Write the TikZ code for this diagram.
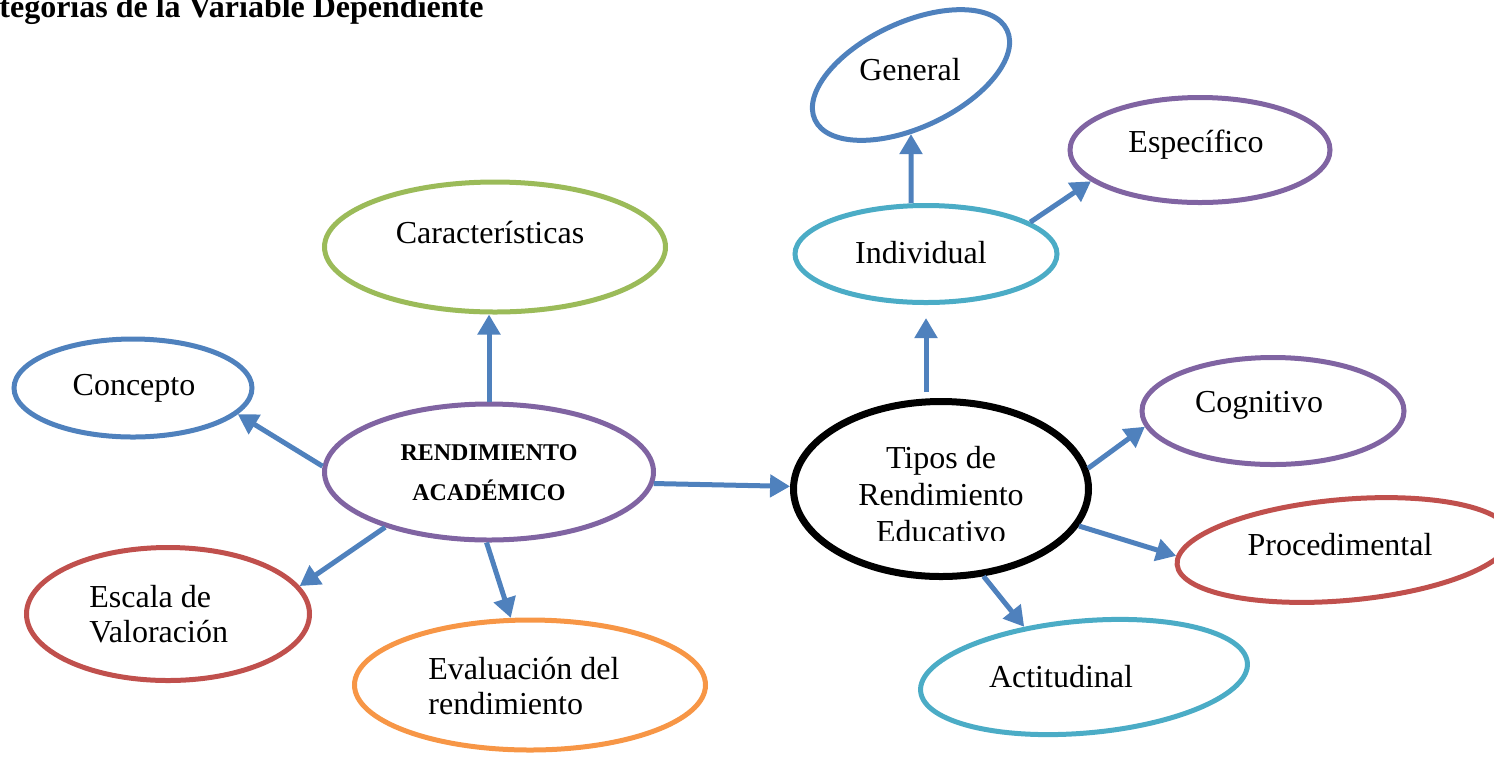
\documentclass[tikz,border=0pt]{standalone}
\usepackage{fontspec}
\setmainfont{Liberation Serif}
\usetikzlibrary{shapes.geometric,arrows.meta}

\definecolor{azul}{HTML}{4F81BD}
\definecolor{morado}{HTML}{8064A2}
\definecolor{verde}{HTML}{9BBB59}
\definecolor{turquesa}{HTML}{4BACC6}
\definecolor{rojo}{HTML}{C0504D}
\definecolor{naranja}{HTML}{F79646}

\begin{document}
\begin{tikzpicture}[x=0.5pt, y=-0.5pt,
    ovalo/.style={ellipse, draw=#1, line width=2.5pt, inner sep=0pt},
    texto/.style={font=\fontsize{16}{17.5}\selectfont, inner sep=0pt},
    flecha/.style={color=azul, line width=2.5pt, -{Triangle[length=10pt,width=11pt]}}]

\useasboundingbox (0,0) rectangle (1494,757);
\clip (0,0) rectangle (1494,757);

\node [texto, font=\fontsize{16}{18}\selectfont\bfseries, anchor=base west] (titulo) at (-1,17) {tegorias de la Variable Dependiente};

% centro
\node [ovalo=morado, minimum width=164.5pt, minimum height=68pt] (ra) at (489,472) {};
\node [texto, font=\fontsize{12}{20}\selectfont\bfseries, align=center] (raT) at (489,473) {RENDIMIENTO\\ACADÉMICO};

\node [ovalo=black, line width=3.5pt, minimum width=147.5pt, minimum height=87.5pt] (tipos) at (941,489) {};
\begin{scope}
  \clip (780,400) rectangle (1100,540);
  \node [texto, font=\fontsize{16}{18.5}\selectfont, align=center] (tiposT) at (941,495) {Tipos de\\Rendimiento\\Educativo};
\end{scope}

% lado izquierdo
\node [ovalo=verde, minimum width=170.5pt, minimum height=65pt] (car) at (495,247) {};
\node [texto, anchor=base] (carT) at (490,243) {Características};
\node [ovalo=azul, minimum width=119pt, minimum height=49pt] (con) at (133,388) {};
\node [texto, anchor=base] (conT) at (134,395) {Concepto};
\node [ovalo=rojo, minimum width=141.5pt, minimum height=66.5pt] (esc) at (168,614) {};
\node [texto, anchor=west, align=left] (escT) at (89,614) {Escala de\\Valoración};
\node [ovalo=naranja, minimum width=175.5pt, minimum height=65pt] (eva) at (530,685) {};
\node [texto, anchor=west, align=left] (evaT) at (428,686) {Evaluación del\\rendimiento};

% lado derecho
\node [ovalo=turquesa, minimum width=131pt, minimum height=48.5pt] (ind) at (926,254) {};
\node [texto, anchor=base] (indT) at (921,263) {Individual};
\node [ovalo=azul, rotate=25, minimum width=106pt, minimum height=52.5pt] (gen) at (911,75) {};
\node [texto, anchor=base] (genT) at (910,80) {General};
\node [ovalo=morado, minimum width=130pt, minimum height=52.5pt] (esp) at (1200,150) {};
\node [texto, anchor=base] (espT) at (1196,152) {Específico};
\node [ovalo=morado, minimum width=131pt, minimum height=53.5pt] (cog) at (1273,411) {};
\node [texto, anchor=base] (cogT) at (1259,412) {Cognitivo};
\node [ovalo=rojo, rotate=5, minimum width=167.5pt, minimum height=50.5pt] (pro) at (1344,550) {};
\node [texto, anchor=base] (proT) at (1340,555) {Procedimental};
\node [ovalo=turquesa, rotate=5, minimum width=164pt, minimum height=56pt] (act) at (1084,677) {};
\node [texto, anchor=base] (actT) at (1061,687) {Actitudinal};

\path [flecha]
  (ra.north) edge (ra.north |- car.south)
  (ra.178) edge (con.-14)
  (ra.208) edge (esc.12)
  (ra.268) edge (eva.106)
  (ra.-4) edge (tipos.179)
  (ind.south |- tipos.north) edge [shorten <=3pt, shorten >=6.5pt] (ind.south)
  (gen |- ind.north) edge (gen)
  (ind.17) edge (esp.196)
  (tipos.8) edge (cog.187)
  (tipos.-15) edge (pro.177)
  (tipos.-64) edge (act.135);
\end{tikzpicture}
\end{document}
